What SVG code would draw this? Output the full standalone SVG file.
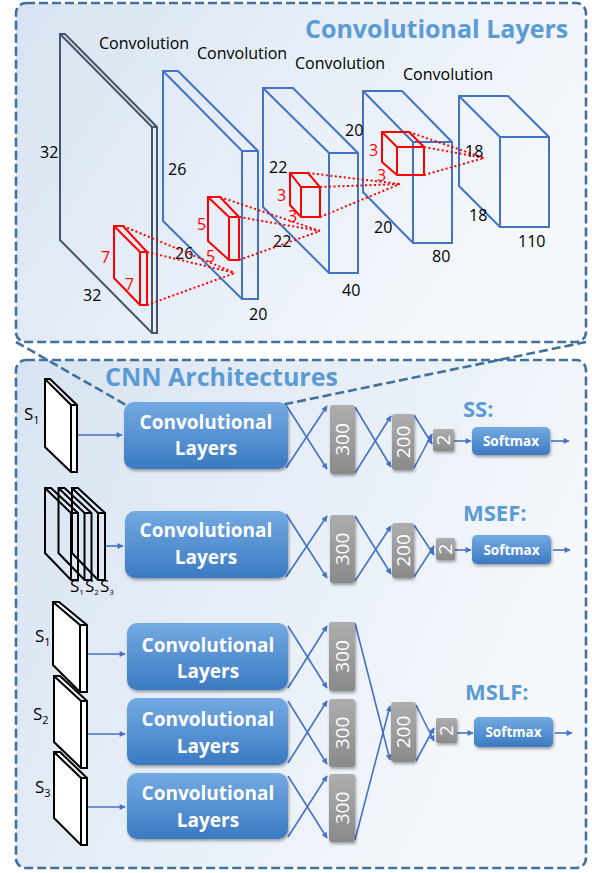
<svg xmlns="http://www.w3.org/2000/svg" width="592" height="873" viewBox="0 0 592 873">
<defs>
<linearGradient id="pg" x1="0" y1="0" x2="1" y2="0.4"><stop offset="0" stop-color="#D8E4F2"/><stop offset="1" stop-color="#F5F8FC"/></linearGradient>
<linearGradient id="bg" x1="0" y1="0" x2="0" y2="1"><stop offset="0" stop-color="#74AAE2"/><stop offset="1" stop-color="#3B7AC2"/></linearGradient>
<linearGradient id="gg" x1="0" y1="0" x2="0" y2="1"><stop offset="0" stop-color="#AEAEAE"/><stop offset="1" stop-color="#8A8A8A"/></linearGradient>
<filter id="sh" x="-10%" y="-10%" width="130%" height="140%"><feDropShadow dx="1" dy="2" stdDeviation="1.5" flood-color="#000" flood-opacity="0.35"/></filter>
<marker id="ah" viewBox="0 0 10 10" refX="9" refY="5" markerWidth="7" markerHeight="6" orient="auto" markerUnits="userSpaceOnUse"><path d="M0,0 L10,5 L0,10 z" fill="#4472C4"/></marker>
<style>
.panel{fill:url(#pg);stroke:#41719C;stroke-width:2.6;stroke-dasharray:9 4}
.zoom{fill:none;stroke:#41719C;stroke-width:2.6;stroke-dasharray:9 4}
.layer{fill:none;stroke:#4472C4;stroke-width:2;stroke-linejoin:miter}
.l1{stroke:#44546A}
.red{fill:none;stroke:#FF0000;stroke-width:2}
.dot{fill:none;stroke:#FF0000;stroke-width:2;stroke-dasharray:2 2.5}
.t{font-family:'Open Sans','Liberation Sans',sans-serif;font-size:16px;fill:#000}
.rt{fill:#FF0000}
.title{font-family:'Open Sans','Liberation Sans',sans-serif;font-size:25px;font-weight:bold;fill:#5B9BD5}
.lab{font-family:'Open Sans','Liberation Sans',sans-serif;font-size:22px;font-weight:bold;fill:#5B9BD5}
.slab{fill:none;stroke:#000;stroke-width:2}
.wf{fill:#FFFFFF}
.conv{fill:url(#bg);filter:url(#sh)}
.ct{font-family:'Open Sans','Liberation Sans',sans-serif;font-size:19px;font-weight:bold;fill:#fff;text-anchor:middle}
.gray{fill:url(#gg);filter:url(#sh)}
.gt{font-family:'Open Sans','Liberation Sans',sans-serif;font-size:19px;fill:#fff;text-anchor:middle}
.sm{font-family:'Open Sans','Liberation Sans',sans-serif;font-size:13.5px;font-weight:bold;fill:#fff;text-anchor:middle}
.s{font-family:'Open Sans','Liberation Sans',sans-serif;font-size:17px;fill:#000}
.conn{fill:none;stroke:#4472C4;stroke-width:1.6;marker-end:url(#ah)}
</style>
</defs>
<rect width="592" height="873" fill="#FFFFFF"/>

<g id="panel-top"><rect class="panel" x="16" y="3" width="570" height="339" rx="10"/>
<text class="title" x="305" y="38">Convolutional Layers</text></g>
<g id="panel-bottom"><rect class="panel" x="16" y="360" width="570" height="508" rx="10"/>
<text class="title" x="105" y="386">CNN Architectures</text></g>

<g id="layer1"><path class="layer l1" d="M60,34 L65,34 L157,127 L157,333 L152,333 L60,240 Z M60,34 L152,127 L157,127 M152,127 L152,333"/></g>
<g id="layer2"><path class="layer" d="M163,71 L178,71 L258,151 L258,299 L242,299 L163,221 Z M163,71 L242,151 L258,151 M242,151 L242,299"/></g>
<g id="layer3"><path class="layer" d="M263,88 L293,88 L358,153 L358,273 L329,273 L263,207 Z M263,88 L329,153 L358,153 M329,153 L329,273"/></g>
<g id="layer4"><path class="layer" d="M363,91 L402,91 L452,142 L452,243 L413,243 L363,192 Z M363,91 L413,142 L452,142 M413,142 L413,243"/></g>
<g id="layer5"><path class="layer" d="M459,96 L508,96 L549,137 L549,227 L500,227 L459,186 Z M459,96 L500,137 L549,137 M500,137 L500,227"/></g>

<g id="top-labels" class="t">
<text x="99" y="49">Convolution</text>
<text x="197" y="59">Convolution</text>
<text x="295" y="69">Convolution</text>
<text x="403" y="80">Convolution</text>
<text x="40" y="158">32</text>
<text x="168" y="175">26</text>
<text x="269" y="173">22</text>
<text x="345" y="136">20</text>
<text x="83" y="301">32</text>
<text x="175" y="259">26</text>
<text x="249" y="320">20</text>
<text x="273" y="247">22</text>
<text x="342" y="296">40</text>
<text x="374" y="233">20</text>
<text x="432" y="262">80</text>
<text x="469" y="221">18</text>
<text x="518" y="247">110</text>
</g>

<g id="kernel1"><path class="red" d="M114,226 L123,226 L147,252 L147,305 L140,305 L114,278 Z M114,226 L140,252 L147,252 M140,252 L140,305"/></g>
<g id="kernel2"><path class="red" d="M208,197 L220,197 L239,217 L239,260 L229,260 L208,241 Z M208,197 L229,217 L239,217 M229,217 L229,260"/></g>
<g id="kernel3"><path class="red" d="M290,173 L308,173 L320,187 L320,217 L301,217 L290,205 Z M290,173 L301,187 L320,187 M301,187 L301,217"/></g>
<g id="kernel4"><path class="red" d="M382,132 L409,132 L424,147 L424,175 L397,175 L382,162 Z M382,132 L397,147 L424,147 M397,147 L397,175"/></g>
<g id="kernel-lines">
<path class="dot" d="M123,226 L235,273 M147,252 L235,273 M147,305 L235,273"/>
<path class="dot" d="M220,197 L320,231 M239,217 L320,231 M239,260 L320,231"/>
<path class="dot" d="M308,173 L400,184 M320,187 L400,184 M320,217 L400,184"/>
<path class="dot" d="M409,132 L484,158 M424,147 L484,158 M424,175 L484,158"/>
</g>
<g id="kernel-labels" class="t">
<text class="rt" x="101" y="263">7</text>
<text class="rt" x="125" y="290">7</text>
<text class="rt" x="197" y="230">5</text>
<text class="rt" x="206" y="262">5</text>
<text class="rt" x="277" y="201">3</text>
<text class="rt" x="288" y="222">3</text>
<text class="rt" x="369" y="156">3</text>
<text class="rt" x="377" y="181">3</text>
</g>
<text class="t" x="465" y="157">18</text>

<g id="zoom-lines"><path class="zoom" d="M16,342 L126,405 M586,342 L281,405"/></g>

<g id="connectors">
<path class="conn" d="M77,435 L122,435"/>
<path class="conn" d="M286,405 L327,469"/><path class="conn" d="M286,468 L327,406"/>
<path class="conn" d="M355,407 L391,467"/><path class="conn" d="M355,473 L391,416"/>
<path class="conn" d="M414,415 L432,444"/><path class="conn" d="M414,468 L432,434"/>
<path class="conn" d="M454,441 L471,441"/><path class="conn" d="M551,441 L569,441"/>
<path class="conn" d="M105,546 L123,546"/>
<path class="conn" d="M286,514 L327,578"/><path class="conn" d="M286,577 L327,516"/>
<path class="conn" d="M355,516 L391,574"/><path class="conn" d="M355,581 L391,526"/>
<path class="conn" d="M414,525 L434,555"/><path class="conn" d="M414,577 L434,546"/>
<path class="conn" d="M455,550 L471,550"/><path class="conn" d="M553,550 L570,550"/>
<path class="conn" d="M87,654 L125,654"/><path class="conn" d="M87,734 L125,734"/><path class="conn" d="M87,807 L125,807"/>
<path class="conn" d="M288,626 L327,688"/><path class="conn" d="M288,688 L327,626"/>
<path class="conn" d="M288,701 L327,764"/><path class="conn" d="M288,763 L327,701"/>
<path class="conn" d="M288,776 L327,838"/><path class="conn" d="M288,837 L327,776"/>
<path class="conn" d="M355,623 L390,760"/><path class="conn" d="M355,840 L390,706"/>
<path class="conn" d="M416,705 L434,741"/><path class="conn" d="M416,761 L434,728"/>
<path class="conn" d="M457,733 L473,733"/><path class="conn" d="M555,733 L572,733"/>
</g>

<g id="ss-input"><path class="slab wf" d="M45,379 L50,379 L77,405 L77,472 L71,472 L45,447 Z M45,379 L71,405 L77,405 M71,405 L71,472"/>
<text class="s" x="24" y="420">S<tspan font-size="11" dy="4">1</tspan></text></g>
<g id="ss-conv"><rect class="conv" x="124" y="402" width="164" height="67" rx="10"/><text class="ct" x="206" y="429">Convolutional</text><text class="ct" x="206" y="455">Layers</text></g>
<g id="ss-300"><rect class="gray" x="330" y="405" width="25" height="69" rx="3"/><text class="gt" transform="rotate(-90 342.5 439.5)" x="342.5" y="446">300</text></g>
<g id="ss-200"><rect class="gray" x="392" y="414" width="22" height="56" rx="3"/><text class="gt" transform="rotate(-90 403 442)" x="403" y="448.5">200</text></g>
<g id="ss-2"><rect class="gray" x="433" y="429" width="21" height="22" rx="2"/><text class="gt" transform="rotate(-90 443.5 440)" x="443.5" y="446.5">2</text></g>
<g id="ss-softmax"><rect class="conv" x="472" y="427" width="78" height="28" rx="5"/><text class="sm" x="511" y="446">Softmax</text></g>
<text class="lab" x="463" y="417">SS:</text>

<g id="msef-input">
<path class="slab" d="M45,488 L51,488 L78,513 L78,580 L71,580 L45,553 Z M45,488 L71,513 L78,513 M71,513 L71,580"/>
<path class="slab" d="M58.5,488 L64.5,488 L91.5,513 L91.5,580 L84.5,580 L58.5,553 Z M58.5,488 L84.5,513 L91.5,513 M84.5,513 L84.5,580"/>
<path class="slab" d="M72,488 L78,488 L105,513 L105,580 L98,580 L72,553 Z M72,488 L98,513 L105,513 M98,513 L98,580"/>
<text class="s" font-size="11" x="70" y="592">S<tspan font-size="8" dy="3">1</tspan></text>
<text class="s" font-size="11" x="85" y="592">S<tspan font-size="8" dy="3">2</tspan></text>
<text class="s" font-size="11" x="100" y="592">S<tspan font-size="8" dy="3">3</tspan></text>
</g>
<g id="msef-conv"><rect class="conv" x="125" y="511" width="163" height="67" rx="10"/><text class="ct" x="206" y="537">Convolutional</text><text class="ct" x="206" y="564">Layers</text></g>
<g id="msef-300"><rect class="gray" x="330" y="515" width="25" height="68" rx="3"/><text class="gt" transform="rotate(-90 342.5 549)" x="342.5" y="555.5">300</text></g>
<g id="msef-200"><rect class="gray" x="392" y="523" width="22" height="55" rx="3"/><text class="gt" transform="rotate(-90 403 550.5)" x="403" y="557">200</text></g>
<g id="msef-2"><rect class="gray" x="436" y="538" width="19" height="22" rx="2"/><text class="gt" transform="rotate(-90 445.5 549)" x="445.5" y="555.5">2</text></g>
<g id="msef-softmax"><rect class="conv" x="472" y="535" width="79" height="29" rx="5"/><text class="sm" x="511.5" y="554.5">Softmax</text></g>
<text class="lab" x="463" y="521">MSEF:</text>

<g id="mslf-input1"><path class="slab wf" d="M53,602 L59,602 L87,625 L87,692 L80,692 L53,665 Z M53,602 L80,625 L87,625 M80,625 L80,692"/>
<text class="s" x="35" y="642">S<tspan font-size="11" dy="4">1</tspan></text></g>
<g id="mslf-input2"><path class="slab wf" d="M54,676 L60,676 L87,701 L87,768 L81,768 L54,742 Z M54,676 L81,701 L87,701 M81,701 L81,768"/>
<text class="s" x="33" y="720">S<tspan font-size="11" dy="4">2</tspan></text></g>
<g id="mslf-input3"><path class="slab wf" d="M54,752 L60,752 L87,778 L87,845 L81,845 L54,818 Z M54,752 L81,778 L87,778 M81,778 L81,845"/>
<text class="s" x="35" y="793">S<tspan font-size="11" dy="4">3</tspan></text></g>
<g id="mslf-conv1"><rect class="conv" x="127" y="623" width="161" height="67" rx="10"/><text class="ct" x="208" y="652">Convolutional</text><text class="ct" x="208" y="678">Layers</text></g>
<g id="mslf-conv2"><rect class="conv" x="127" y="698" width="161" height="67" rx="10"/><text class="ct" x="208" y="726">Convolutional</text><text class="ct" x="208" y="753">Layers</text></g>
<g id="mslf-conv3"><rect class="conv" x="127" y="773" width="161" height="66" rx="10"/><text class="ct" x="208" y="800">Convolutional</text><text class="ct" x="208" y="827">Layers</text></g>
<g id="mslf-300a"><rect class="gray" x="329" y="622" width="26" height="69" rx="3"/><text class="gt" transform="rotate(-90 342 656.5)" x="342" y="663">300</text></g>
<g id="mslf-300b"><rect class="gray" x="329" y="699" width="26" height="68" rx="3"/><text class="gt" transform="rotate(-90 342 733)" x="342" y="739.5">300</text></g>
<g id="mslf-300c"><rect class="gray" x="329" y="774" width="26" height="68" rx="3"/><text class="gt" transform="rotate(-90 342 808)" x="342" y="814.5">300</text></g>
<g id="mslf-200"><rect class="gray" x="391" y="702" width="25" height="60" rx="3"/><text class="gt" transform="rotate(-90 403.5 732)" x="403.5" y="738.5">200</text></g>
<g id="mslf-2"><rect class="gray" x="436" y="718" width="21" height="25" rx="2"/><text class="gt" transform="rotate(-90 446.5 730.5)" x="446.5" y="737">2</text></g>
<g id="mslf-softmax"><rect class="conv" x="474" y="717" width="79" height="30" rx="5"/><text class="sm" x="513.5" y="737">Softmax</text></g>
<text class="lab" x="465" y="700">MSLF:</text>
</svg>
